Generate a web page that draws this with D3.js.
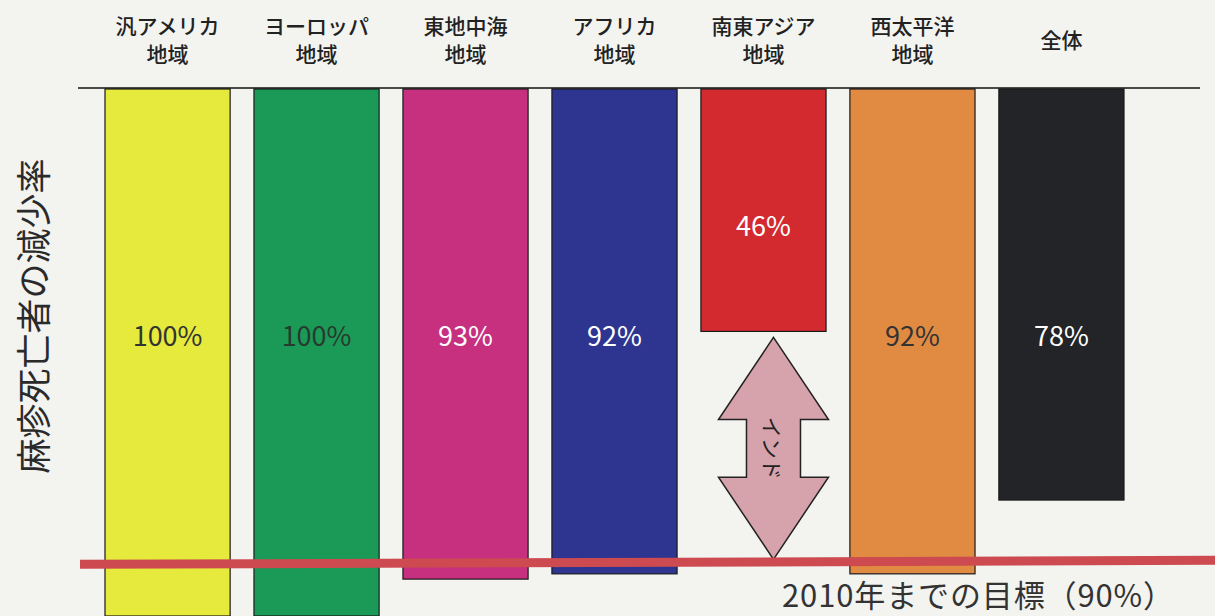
<!DOCTYPE html>
<html lang="ja">
<head>
<meta charset="UTF-8">
<title>麻疹死亡者の減少率</title>
<script src="https://d3js.org/d3.v7.min.js"></script>
<style>
  body { margin: 0; background: #f3f3f0; }
  svg { display: block; }
  text { font-family: "Noto Sans CJK JP", "Noto Sans", sans-serif; }
</style>
</head>
<body>
<div id="chart"></div>
<script>
// data
const regions = [
  ["汎アメリカ", "地域"],
  ["ヨーロッパ", "地域"],
  ["東地中海", "地域"],
  ["アフリカ", "地域"],
  ["南東アジア", "地域"],
  ["西太平洋", "地域"],
  ["全体"]
];
const reduction = [100, 100, 93, 92, 46, 92, 78];
const barColors = ["#e6ea3c", "#1b9a57", "#c6307f", "#2e3590", "#d32a2f", "#e08a42", "#222427"];
const labelColors = ["#333", "#263a2e", "#fff", "#fff", "#fff", "#333", "#fff"];
const target = 90;
const targetLabel = "2010年までの目標（90%）";
const yTitle = "麻疹死亡者の減少率";
const indiaLabel = "インド";

const W = 1215, H = 616;
const svg = d3.select("#chart").append("svg")
  .attr("width", W).attr("height", H);

const keys = regions.map(d => d.join(""));
const x = d3.scaleBand().domain(keys).range([105, 1124]).paddingInner(0.16).paddingOuter(0);
const y = d3.scaleLinear().domain([0, 100]).range([89, 616]);

// y title, rotated
svg.append("text")
  .attr("transform", `translate(47,${316}) rotate(-90)`)
  .attr("text-anchor", "middle")
  .attr("font-size", 35)
  .attr("fill", "#2a2a2a")
  .text(yTitle);

// category labels
const cat = svg.selectAll(".cat").data(regions).join("text")
  .attr("class", "cat")
  .attr("text-anchor", "middle")
  .attr("font-size", 21)
  .attr("font-weight", 500)
  .attr("fill", "#222")
  .attr("x", (d, i) => x(keys[i]) + x.bandwidth() / 2)
  .attr("y", d => d.length > 1 ? 34 : 48);
cat.selectAll("tspan").data(d => d).join("tspan")
  .attr("x", function() { return d3.select(this.parentNode).attr("x"); })
  .attr("dy", (d, i) => i === 0 ? 0 : 28)
  .text(d => d);

// bars hanging from top
svg.selectAll(".bar").data(reduction).join("rect")
  .attr("class", "bar")
  .attr("x", (d, i) => x(keys[i]))
  .attr("y", y(0))
  .attr("width", x.bandwidth())
  .attr("height", d => y(d) - y(0))
  .attr("fill", (d, i) => barColors[i])
  .attr("stroke", "#1a1a1a")
  .attr("stroke-width", 1.2);

// top baseline
svg.append("line")
  .attr("x1", 78).attr("x2", 1200)
  .attr("y1", y(0) - 1).attr("y2", y(0) - 1)
  .attr("stroke", "#111").attr("stroke-width", 1.5);

// value labels
svg.selectAll(".val").data(reduction).join("text")
  .attr("class", "val")
  .attr("text-anchor", "middle")
  .attr("font-size", 27)
  .attr("fill", (d, i) => labelColors[i])
  .attr("x", (d, i) => x(keys[i]) + x.bandwidth() / 2)
  .attr("y", d => y(d > 60 ? 47 : d * 0.57) + 9)
  .text(d => d + "%");

// India gap arrow (from SE Asia value to target)
const sea = keys[4];
const ax = x(sea) + x.bandwidth() / 2 + 10;
const aTop = y(reduction[4]) + 6, aBot = y(target) - 4;
const head = (aBot - aTop) * 0.37, hw = 55, sw = 27;
const arrow = [
  [ax, aTop], [ax + hw, aTop + head], [ax + sw, aTop + head],
  [ax + sw, aBot - head], [ax + hw, aBot - head], [ax, aBot],
  [ax - hw, aBot - head], [ax - sw, aBot - head], [ax - sw, aTop + head],
  [ax - hw, aTop + head]
];
svg.append("path")
  .attr("d", d3.line()(arrow) + "Z")
  .attr("fill", "#d6a2ab")
  .attr("stroke", "#222")
  .attr("stroke-width", 1.5);
svg.append("text")
  .attr("transform", `translate(${ax - 2},${(aTop + aBot) / 2}) rotate(90)`)
  .attr("text-anchor", "middle")
  .attr("dy", "0.35em")
  .attr("font-size", 21)
  .attr("fill", "#222")
  .text(indiaLabel);

// target line
svg.append("line")
  .attr("x1", 80).attr("x2", W)
  .attr("y1", y(target) + 1).attr("y2", y(target) - 3)
  .attr("stroke", "#cc4a50")
  .attr("stroke-width", 9);

svg.append("text")
  .attr("x", 782).attr("y", 607)
  .attr("font-size", 31)
  .attr("fill", "#333")
  .attr("textLength", 392)
  .attr("lengthAdjust", "spacing")
  .text(targetLabel);
</script>
</body>
</html>
